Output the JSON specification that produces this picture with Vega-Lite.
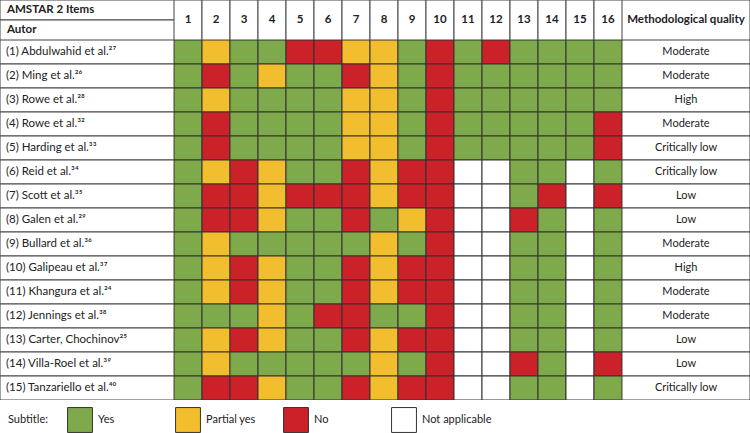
{
  "$schema": "https://vega.github.io/schema/vega-lite/v6.json",
  "padding": 0,
  "background": "white",
  "spacing": 0,
  "config": {
    "view": {"stroke": null},
    "font": "Lato",
    "text": {"color": "#222", "fontSize": 11}
  },
  "datasets": {
    "rows": [
      {"author": "(1) Abdulwahid et al.²⁷", "quality": "Moderate", "1": "Y", "2": "P", "3": "Y", "4": "Y", "5": "N", "6": "N", "7": "P", "8": "P", "9": "Y", "10": "N", "11": "Y", "12": "N", "13": "Y", "14": "Y", "15": "Y", "16": "Y"},
      {"author": "(2) Ming et al.²⁶", "quality": "Moderate", "1": "Y", "2": "N", "3": "Y", "4": "P", "5": "Y", "6": "Y", "7": "N", "8": "P", "9": "Y", "10": "N", "11": "Y", "12": "Y", "13": "Y", "14": "Y", "15": "Y", "16": "Y"},
      {"author": "(3) Rowe et al.²⁸", "quality": "High", "1": "Y", "2": "P", "3": "Y", "4": "Y", "5": "Y", "6": "Y", "7": "P", "8": "P", "9": "Y", "10": "N", "11": "Y", "12": "Y", "13": "Y", "14": "Y", "15": "Y", "16": "Y"},
      {"author": "(4) Rowe et al.³²", "quality": "Moderate", "1": "Y", "2": "N", "3": "Y", "4": "Y", "5": "Y", "6": "Y", "7": "P", "8": "P", "9": "Y", "10": "N", "11": "Y", "12": "Y", "13": "Y", "14": "Y", "15": "Y", "16": "N"},
      {"author": "(5) Harding et al.³³", "quality": "Critically low", "1": "Y", "2": "N", "3": "Y", "4": "Y", "5": "Y", "6": "Y", "7": "P", "8": "P", "9": "Y", "10": "N", "11": "Y", "12": "Y", "13": "Y", "14": "Y", "15": "Y", "16": "N"},
      {"author": "(6) Reid et al.³⁴", "quality": "Critically low", "1": "Y", "2": "P", "3": "N", "4": "P", "5": "Y", "6": "Y", "7": "N", "8": "P", "9": "N", "10": "N", "11": "NA", "12": "NA", "13": "Y", "14": "Y", "15": "NA", "16": "Y"},
      {"author": "(7) Scott et al.³⁵", "quality": "Low", "1": "Y", "2": "N", "3": "N", "4": "P", "5": "N", "6": "N", "7": "N", "8": "P", "9": "N", "10": "N", "11": "NA", "12": "NA", "13": "Y", "14": "N", "15": "NA", "16": "N"},
      {"author": "(8) Galen et al.²⁹", "quality": "Low", "1": "Y", "2": "N", "3": "N", "4": "P", "5": "Y", "6": "Y", "7": "N", "8": "Y", "9": "P", "10": "N", "11": "NA", "12": "NA", "13": "N", "14": "Y", "15": "NA", "16": "Y"},
      {"author": "(9) Bullard et al.³⁶", "quality": "Moderate", "1": "Y", "2": "P", "3": "Y", "4": "Y", "5": "Y", "6": "Y", "7": "Y", "8": "P", "9": "Y", "10": "N", "11": "NA", "12": "NA", "13": "Y", "14": "Y", "15": "NA", "16": "Y"},
      {"author": "(10) Galipeau et al.³⁷", "quality": "High", "1": "Y", "2": "P", "3": "N", "4": "P", "5": "Y", "6": "Y", "7": "N", "8": "P", "9": "N", "10": "N", "11": "NA", "12": "NA", "13": "Y", "14": "Y", "15": "NA", "16": "Y"},
      {"author": "(11) Khangura et al.²⁴", "quality": "Moderate", "1": "Y", "2": "P", "3": "N", "4": "P", "5": "Y", "6": "Y", "7": "N", "8": "P", "9": "N", "10": "N", "11": "NA", "12": "NA", "13": "Y", "14": "Y", "15": "NA", "16": "Y"},
      {"author": "(12) Jennings et al.³⁸", "quality": "Moderate", "1": "Y", "2": "Y", "3": "Y", "4": "P", "5": "Y", "6": "N", "7": "N", "8": "Y", "9": "Y", "10": "N", "11": "NA", "12": "NA", "13": "Y", "14": "Y", "15": "NA", "16": "Y"},
      {"author": "(13) Carter, Chochinov²⁵", "quality": "Low", "1": "Y", "2": "P", "3": "N", "4": "P", "5": "Y", "6": "Y", "7": "N", "8": "P", "9": "N", "10": "N", "11": "NA", "12": "NA", "13": "Y", "14": "Y", "15": "NA", "16": "Y"},
      {"author": "(14) Villa-Roel et al.³⁹", "quality": "Low", "1": "Y", "2": "P", "3": "Y", "4": "Y", "5": "Y", "6": "Y", "7": "Y", "8": "P", "9": "Y", "10": "N", "11": "NA", "12": "NA", "13": "N", "14": "Y", "15": "NA", "16": "N"},
      {"author": "(15) Tanzariello et al.⁴⁰", "quality": "Critically low", "1": "Y", "2": "N", "3": "N", "4": "P", "5": "Y", "6": "Y", "7": "N", "8": "P", "9": "N", "10": "N", "11": "NA", "12": "NA", "13": "Y", "14": "Y", "15": "NA", "16": "Y"}
    ],
    "header": [{"h": "AMSTAR 2 Items"}, {"h": "Autor"}],
    "items": [{"item": "1"}, {"item": "2"}, {"item": "3"}, {"item": "4"}, {"item": "5"}, {"item": "6"}, {"item": "7"}, {"item": "8"}, {"item": "9"}, {"item": "10"}, {"item": "11"}, {"item": "12"}, {"item": "13"}, {"item": "14"}, {"item": "15"}, {"item": "16"}],
    "qhead": [{"h": "Methodological quality"}],
    "legend": [{"code": "Y", "label": "Yes"}, {"code": "P", "label": "Partial yes"}, {"code": "N", "label": "No"}, {"code": "NA", "label": "Not applicable"}],
    "subtitle": [{"t": "Subtitle:"}]
  },
  "vconcat": [
    {
      "spacing": 0,
      "bounds": "flush",
      "hconcat": [
        {
          "width": 174, "height": 40,
          "data": {"name": "header"},
          "encoding": {"y": {"field": "h", "type": "nominal", "sort": null, "axis": null, "scale": {"paddingInner": 0, "paddingOuter": 0}}},
          "layer": [
            {"mark": {"type": "rect", "fill": "white", "stroke": "#444", "strokeWidth": 1, "clip": true}},
            {"mark": {"type": "text", "align": "left", "x": 7, "fontWeight": "bold", "fontSize": 11.5}, "encoding": {"text": {"field": "h"}}}
          ]
        },
        {
          "width": 448, "height": 40,
          "data": {"name": "items"},
          "encoding": {"x": {"field": "item", "type": "nominal", "sort": null, "axis": null, "scale": {"paddingInner": 0, "paddingOuter": 0}}},
          "layer": [
            {"mark": {"type": "rect", "fill": "white", "stroke": "#444", "strokeWidth": 1, "clip": true}},
            {"mark": {"type": "text", "y": 20, "fontWeight": "bold", "fontSize": 11.5}, "encoding": {"text": {"field": "item"}}}
          ]
        },
        {
          "width": 128, "height": 40,
          "data": {"name": "qhead"},
          "encoding": {"y": {"field": "h", "type": "nominal", "axis": null, "scale": {"paddingInner": 0, "paddingOuter": 0}}},
          "layer": [
            {"mark": {"type": "rect", "fill": "white", "stroke": "#444", "strokeWidth": 1, "clip": true}},
            {"mark": {"type": "text", "x": 64, "fontWeight": "bold", "fontSize": 11.5}, "encoding": {"text": {"field": "h"}}}
          ]
        }
      ]
    },
    {
      "spacing": 0,
      "bounds": "flush",
      "hconcat": [
        {
          "width": 174, "height": 360,
          "data": {"name": "rows"},
          "encoding": {"y": {"field": "author", "type": "nominal", "sort": null, "axis": null, "scale": {"paddingInner": 0, "paddingOuter": 0}}},
          "layer": [
            {"mark": {"type": "rect", "fill": "white", "stroke": "#444", "strokeWidth": 1, "clip": true}},
            {"mark": {"type": "text", "align": "left", "x": 6, "fontSize": 11.5}, "encoding": {"text": {"field": "author"}}}
          ]
        },
        {
          "width": 448, "height": 360,
          "data": {"name": "rows"},
          "transform": [
            {"fold": ["1", "2", "3", "4", "5", "6", "7", "8", "9", "10", "11", "12", "13", "14", "15", "16"], "as": ["item", "code"]}
          ],
          "mark": {"type": "rect", "stroke": "#333", "strokeWidth": 1, "opacity": 1, "clip": true},
          "encoding": {
            "x": {"field": "item", "type": "nominal", "axis": null, "scale": {"domain": ["1", "2", "3", "4", "5", "6", "7", "8", "9", "10", "11", "12", "13", "14", "15", "16"], "paddingInner": 0, "paddingOuter": 0}},
            "y": {"field": "author", "type": "nominal", "sort": null, "axis": null, "scale": {"paddingInner": 0, "paddingOuter": 0}},
            "fill": {"field": "code", "type": "nominal", "legend": null, "scale": {"domain": ["Y", "P", "N", "NA"], "range": ["#7faa4c", "#f2be2e", "#cc2128", "#ffffff"]}}
          }
        },
        {
          "width": 128, "height": 360,
          "data": {"name": "rows"},
          "encoding": {"y": {"field": "author", "type": "nominal", "sort": null, "axis": null, "scale": {"paddingInner": 0, "paddingOuter": 0}}},
          "layer": [
            {"mark": {"type": "rect", "fill": "white", "stroke": "#444", "strokeWidth": 1, "clip": true}},
            {"mark": {"type": "text", "x": 64}, "encoding": {"text": {"field": "quality"}}}
          ]
        }
      ]
    },
    {
      "spacing": 0,
      "bounds": "flush",
      "hconcat": [
        {
          "width": 80, "height": 33,
          "data": {"name": "subtitle"},
          "mark": {"type": "text", "align": "left", "x": 8, "y": 20},
          "encoding": {"text": {"field": "t"}}
        },
        {
          "width": 324, "height": 33,
          "data": {"name": "legend"},
          "encoding": {"x": {"field": "code", "type": "nominal", "sort": null, "axis": null, "scale": {"type": "point", "padding": 0}}},
          "layer": [
            {
              "mark": {"type": "square", "size": 620, "y": 20, "filled": true, "opacity": 1, "stroke": "#333", "strokeWidth": 1},
              "encoding": {"fill": {"field": "code", "type": "nominal", "legend": null, "scale": {"domain": ["Y", "P", "N", "NA"], "range": ["#7faa4c", "#f2be2e", "#cc2128", "#ffffff"]}}}
            },
            {
              "mark": {"type": "text", "align": "left", "dx": 18, "y": 20},
              "encoding": {"text": {"field": "label"}}
            }
          ]
        }
      ]
    }
  ]
}
